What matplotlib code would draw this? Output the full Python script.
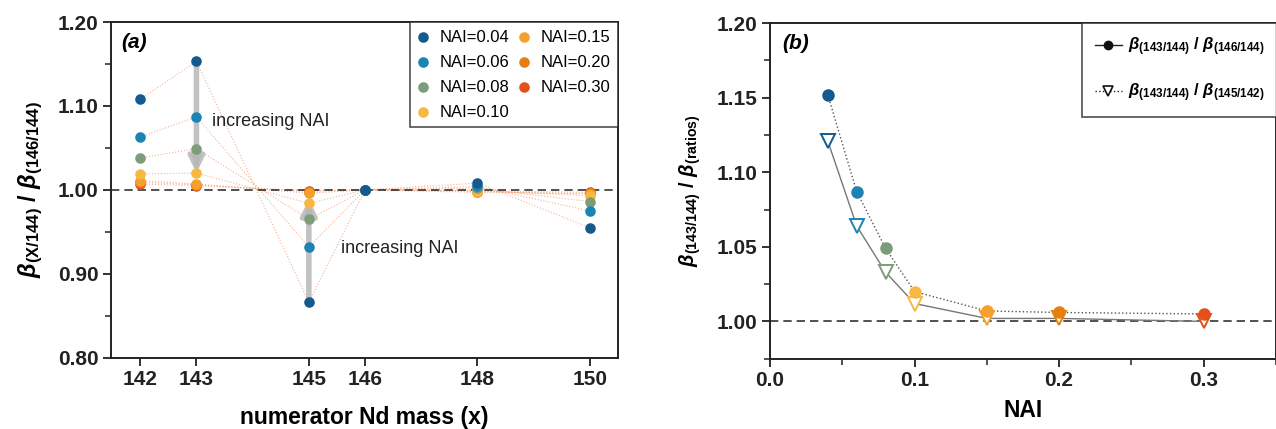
import numpy as np
import matplotlib
matplotlib.use('Agg')
import matplotlib.pyplot as plt
from matplotlib.ticker import MultipleLocator, FixedLocator, FormatStrFormatter
from matplotlib.lines import Line2D

plt.rcParams['font.family'] = ['Liberation Sans', 'DejaVu Sans']
plt.rcParams['mathtext.fontset'] = 'custom'
plt.rcParams['mathtext.rm'] = 'Liberation Sans'
plt.rcParams['mathtext.bf'] = 'Liberation Sans:bold'
plt.rcParams['mathtext.it'] = 'Liberation Sans:italic'
plt.rcParams['mathtext.bfit'] = 'Liberation Sans:bold:italic'

# --- data ---
masses = [142, 143, 145, 146, 148, 150]
nai = [0.04, 0.06, 0.08, 0.10, 0.15, 0.20, 0.30]
nai_labels = ['NAI=0.04', 'NAI=0.06', 'NAI=0.08', 'NAI=0.10', 'NAI=0.15', 'NAI=0.20', 'NAI=0.30']
colors = ['#135a8d', '#1c84b4', '#7d9c79', '#f7b843', '#f3a02e', '#e57f10', '#e4501b']

# beta(x/144)/beta(146/144) per NAI, at masses 142,143,145,146,148,150
ratio_04 = [1.108, 1.153, 0.866, 1.000, 1.008, 0.955]
ratio_06 = [1.063, 1.087, 0.932, 1.000, 1.004, 0.975]
ratio_08 = [1.038, 1.049, 0.965, 1.000, 1.002, 0.986]
ratio_10 = [1.019, 1.020, 0.984, 1.000, 0.999, 0.993]
ratio_15 = [1.011, 1.007, 0.996, 1.000, 0.998, 0.995]
ratio_20 = [1.009, 1.006, 0.998, 1.000, 0.997, 0.996]
ratio_30 = [1.007, 1.005, 0.999, 1.000, 0.999, 0.997]
series_a = [ratio_04, ratio_06, ratio_08, ratio_10, ratio_15, ratio_20, ratio_30]

# panel b: beta(143/144) over the two reference ratios
b_146 = [1.152, 1.087, 1.049, 1.020, 1.007, 1.006, 1.005]
b_145_142 = [1.121, 1.064, 1.033, 1.012, 1.002, 1.002, 1.000]

fig = plt.figure(figsize=(12.76, 4.29), dpi=100)

def style_axes(ax):
    for s in ax.spines.values():
        s.set_linewidth(1.4)
        s.set_color('#222222')
    ax.tick_params(which='major', direction='out', length=6, width=1.3,
                   labelsize=15, pad=3, colors='#222222')
    ax.tick_params(which='minor', direction='out', length=4, width=1.1, colors='#222222')
    for lab in ax.get_xticklabels() + ax.get_yticklabels():
        lab.set_fontweight('bold')

# --- panel (a) ---
ax1 = fig.add_axes([0.0870, 0.1662, 0.3973, 0.7825])
for vals in series_a:
    ax1.plot(masses, vals, ls=':', lw=0.8, color='#f39a70', alpha=0.75, zorder=1)
ax1.axhline(1.0, ls=(0, (5, 3)), lw=1.2, color='#333333', zorder=2)
arrow_style = dict(arrowstyle='-|>,head_width=0.45,head_length=0.9',
                   lw=4, color='#b8b8b8', alpha=0.85)
ax1.annotate('', xy=(143, 1.017), xytext=(143, 1.153), arrowprops=arrow_style, zorder=3)
ax1.annotate('', xy=(145, 0.992), xytext=(145, 0.866), arrowprops=arrow_style, zorder=3)
# legend order low->high NAI, but low NAI drawn on top
sc = {}
for i in reversed(range(len(series_a))):
    sc[i] = ax1.scatter(masses, series_a[i], s=58, color=colors[i], label=nai_labels[i],
                        zorder=4 + (len(series_a) - i) * 0.01, linewidths=0)
ax1.text(143.27, 1.081, 'increasing NAI', fontsize=13, va='center', ha='left', color='#222222')
ax1.text(145.57, 0.930, 'increasing NAI', fontsize=13, va='center', ha='left', color='#222222')
ax1.text(0.02, 0.94, '(a)', transform=ax1.transAxes, fontsize=15, fontweight='bold',
         fontstyle='italic', va='center', ha='left')
ax1.set_xlim(141.48, 150.5)
ax1.set_ylim(0.80, 1.20)
ax1.xaxis.set_major_locator(FixedLocator(masses))
ax1.yaxis.set_major_locator(MultipleLocator(0.1))
ax1.yaxis.set_minor_locator(MultipleLocator(0.05))
ax1.yaxis.set_major_formatter(FormatStrFormatter('%.2f'))
ax1.set_xlabel('numerator Nd mass (x)', fontsize=16.5, fontweight='bold', labelpad=12)
ax1.set_ylabel(r'$\mathbfit{\beta}_{\mathbf{(X/144)}}\ \mathbf{/}\ \mathbfit{\beta}_{\mathbf{(146/144)}}$',
               fontsize=17, labelpad=9)
style_axes(ax1)
leg1 = ax1.legend([sc[i] for i in range(len(series_a))], nai_labels,
                  ncol=2, loc='upper right', bbox_to_anchor=(1, 1), borderaxespad=0,
                  fontsize=12, frameon=True, fancybox=False, edgecolor='#222222',
                  handletextpad=0.7, columnspacing=0.6, labelspacing=0.6,
                  handlelength=0.6, borderpad=0.45, markerscale=1.0)
leg1.get_frame().set_linewidth(1.2)

# --- panel (b) ---
ax2 = fig.add_axes([0.6034, 0.1639, 0.3966, 0.7821])
ax2.axhline(1.0, ls=(0, (5, 3)), lw=1.2, color='#333333', zorder=1)
ax2.plot(nai, b_146, ls=':', lw=1.0, color='#555555', zorder=2)
ax2.plot(nai, b_145_142, ls='-', lw=1.0, color='#777777', zorder=2)
for x, y1, y2, c in zip(nai, b_146, b_145_142, colors):
    ax2.plot(x, y2, marker='v', ms=10, mfc='white', mec=c, mew=1.4, ls='none', zorder=3)
    ax2.plot(x, y1, marker='o', ms=8, mfc=c, mec=c, ls='none', zorder=4)
ax2.text(0.025, 0.94, '(b)', transform=ax2.transAxes, fontsize=15, fontweight='bold',
         fontstyle='italic', va='center', ha='left')
ax2.set_xlim(0, 0.35)
ax2.set_ylim(0.975, 1.20)
ax2.xaxis.set_major_locator(MultipleLocator(0.1))
ax2.xaxis.set_minor_locator(MultipleLocator(0.05))
ax2.yaxis.set_major_locator(MultipleLocator(0.05))
ax2.yaxis.set_minor_locator(MultipleLocator(0.025))
ax2.xaxis.set_major_formatter(FormatStrFormatter('%.1f'))
ax2.yaxis.set_major_formatter(FormatStrFormatter('%.2f'))
ax2.set_xlabel('NAI', fontsize=16.5, fontweight='bold', labelpad=6)
ax2.set_ylabel(r'$\mathbfit{\beta}_{\mathbf{(143/144)}}\ \mathbf{/}\ \mathbfit{\beta}_{\mathbf{(ratios)}}$',
               fontsize=14.5, labelpad=10)
style_axes(ax2)
handles = [
    Line2D([], [], ls='-', lw=1.0, color='#222222', marker='o', ms=6, mfc='#111111', mec='#111111'),
    Line2D([], [], ls=':', lw=1.0, color='#222222', marker='v', ms=7, mfc='white', mec='#111111', mew=1.2),
]
labels = [r'$\mathbfit{\beta}_{\mathbf{(143/144)}}\ \mathbf{/}\ \mathbfit{\beta}_{\mathbf{(146/144)}}$',
          r'$\mathbfit{\beta}_{\mathbf{(143/144)}}\ \mathbf{/}\ \mathbfit{\beta}_{\mathbf{(145/142)}}$']
leg2 = ax2.legend(handles, labels, loc='upper right', bbox_to_anchor=(1.003, 1), borderaxespad=0,
                  fontsize=12, frameon=True, fancybox=False, edgecolor='#222222',
                  handlelength=1.6, handletextpad=0.4, labelspacing=1.4, borderpad=0.75)
leg2.get_frame().set_linewidth(1.2)

fig.savefig('out.png', dpi=100)
